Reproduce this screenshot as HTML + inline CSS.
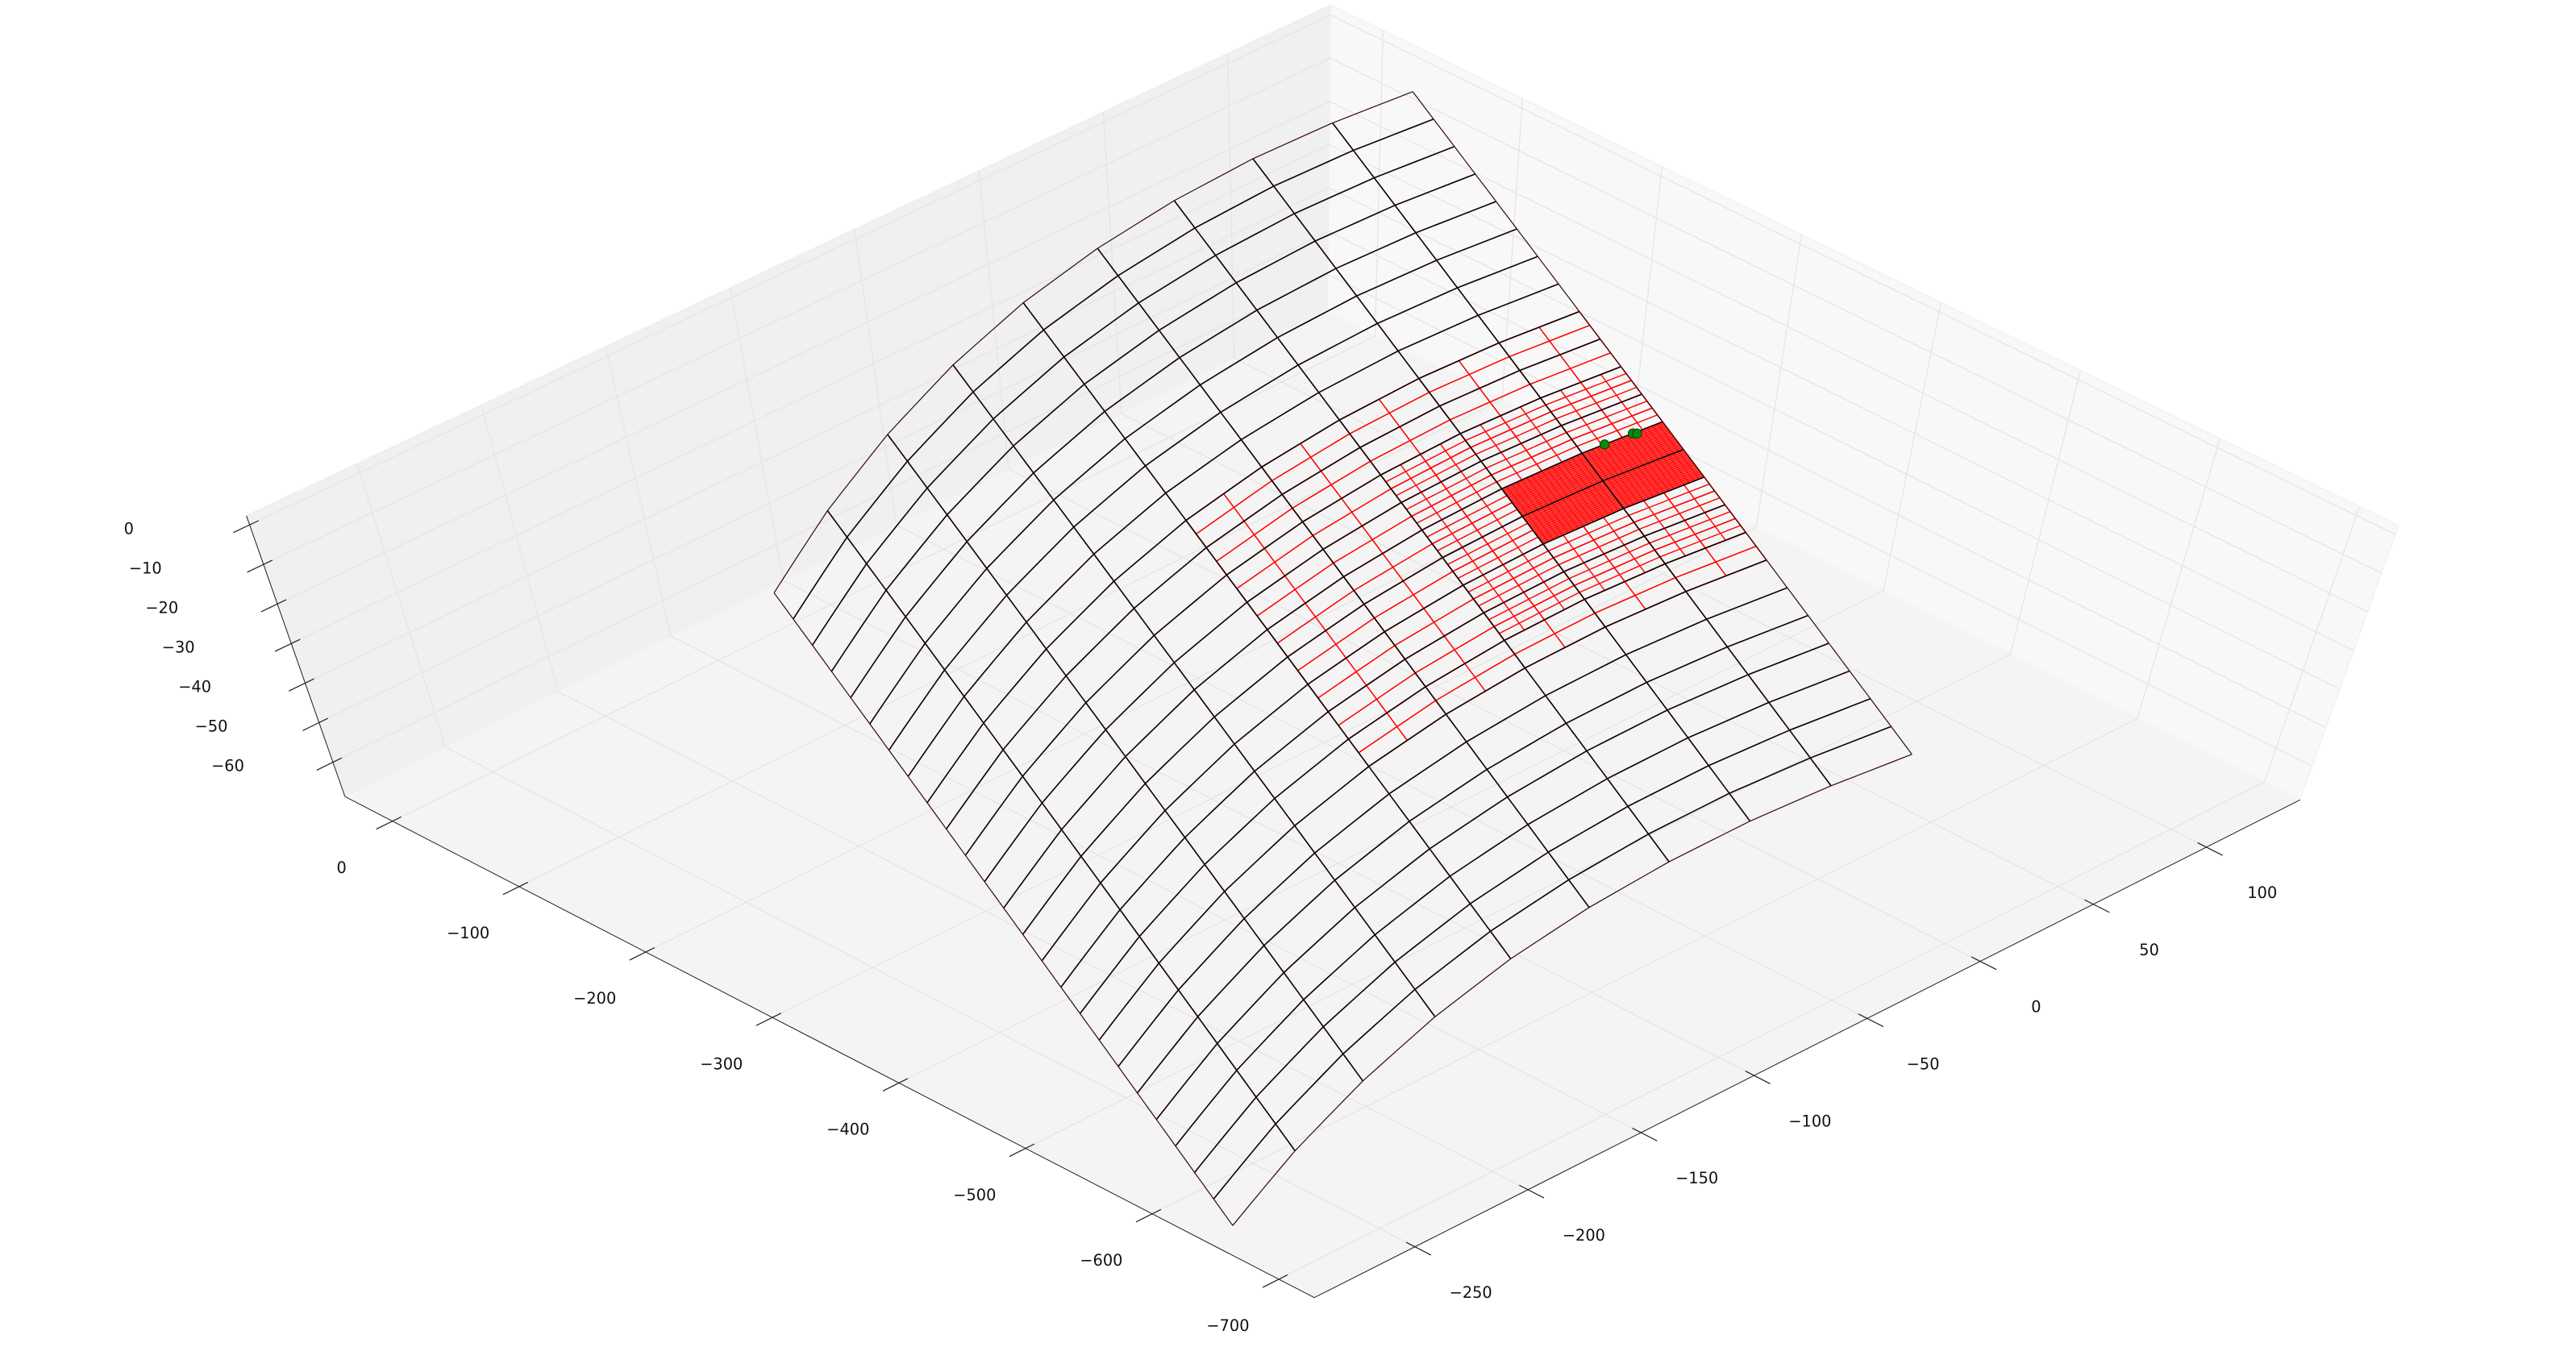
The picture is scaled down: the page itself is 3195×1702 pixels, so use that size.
<!DOCTYPE html>
<html><head><meta charset="utf-8"><title>3D fault mesh</title>
<style>html,body{margin:0;padding:0;background:#fff;}svg{display:block;}</style></head>
<body>
<svg id="chart" xmlns="http://www.w3.org/2000/svg" width="3195" height="1702" viewBox="0 0 1568 835.3" preserveAspectRatio="none" font-family="'DejaVu Sans','Liberation Sans',sans-serif">
<g id="panes"></g>
<g id="grid"></g>
<g id="axes"></g>
<g id="surface"></g>
</svg>
<script>
const xTicks=[0,-100,-200,-300,-400,-500,-600,-700];
const yTicks=[-250,-200,-150,-100,-50,0,50,100];
const zTicks=[0,-10,-20,-30,-40,-50,-60];
const xLim=[-728,37.5];
const yLim=[-294.5,141.4];
const zLim=[-68.7,2.3];
const trenchX=[-49,-728];
const trenchY=[126,-50];
const dipDir=[0.269,-0.963];
const strikeDist=[0,28.8,57.6,86.4,115.2,144,172.8,201.6,230.4,259.2,288,316.8,345.6,374.4,403.2,432,460.8,489.6,518.4,547.2,576,604.8,633.6,662.4,691.2];
const dipDist=[0,29,57.9,86.7,115.2,143.4,171,197.9,224,249];
const dipDepth=[0,-0.9,-2.9,-6.4,-11.4,-18.1,-26.9,-37.7,-50.4,-64.9];
const refine1=[8,17,0,5];
const refine2=[10,16,0,3];
const denseBlock=[12,14,0,2];
const greenStrike=[12,12,12.05];
const greenDip=[0.72,0.37,0.33];

const NS='http://www.w3.org/2000/svg';
const CB={B:[800,790],A:[210,485],C:[1400,487],G:[808,190],H:[798,639],D:[150,314],F:[1460,320],E:[810,3]};
function bil(u,v,p00,p10,p01,p11){
  return [(1-u)*(1-v)*p00[0]+u*(1-v)*p10[0]+(1-u)*v*p01[0]+u*v*p11[0],
          (1-u)*(1-v)*p00[1]+u*(1-v)*p10[1]+(1-u)*v*p01[1]+u*v*p11[1]];
}
function proj(x,y,z){
  const u=(x-xLim[0])/(xLim[1]-xLim[0]);
  const v=(y-yLim[0])/(yLim[1]-yLim[0]);
  const w=(z-zLim[0])/(zLim[1]-zLim[0]);
  const f=bil(u,v,CB.B,CB.A,CB.C,CB.G);
  const t=bil(u,v,CB.H,CB.D,CB.F,CB.E);
  return [f[0]*(1-w)+t[0]*w,f[1]*(1-w)+t[1]*w];
}
function mk(tag,attrs,parent){const e=document.createElementNS(NS,tag);for(const k in attrs)e.setAttribute(k,attrs[k]);parent.appendChild(e);return e;}
function pts(a){return a.map(p=>p[0].toFixed(2)+','+p[1].toFixed(2)).join(' ');}
const gP=document.getElementById('panes'),gG=document.getElementById('grid'),gA=document.getElementById('axes'),gS=document.getElementById('surface');
const X0=xLim[0],X1=xLim[1],Y0=yLim[0],Y1=yLim[1],Z0=zLim[0],Z1=zLim[1];

let p;
p=mk('polygon',{points:pts([proj(X1,Y0,Z0),proj(X1,Y0,Z1),proj(X1,Y1,Z1),proj(X1,Y1,Z0)]),fill:'#f0f0f0',stroke:'#ececec','stroke-width':0.6},gP);


p=mk('polygon',{points:pts([proj(X1,Y1,Z0),proj(X1,Y1,Z1),proj(X0,Y1,Z1),proj(X0,Y1,Z0)]),fill:'#f8f8f8',stroke:'#f0f0f0','stroke-width':0.6},gP);


p=mk('polygon',{points:pts([proj(X1,Y0,Z0),proj(X0,Y0,Z0),proj(X0,Y1,Z0),proj(X1,Y1,Z0)]),fill:'#f4f4f4',stroke:'none'},gP);



const gcol='#e4e4e4',gw=0.6;
function gl(a,b,name){const l=mk('line',{x1:a[0],y1:a[1],x2:b[0],y2:b[1],stroke:gcol,'stroke-width':gw},gG);}
xTicks.forEach(t=>{gl(proj(t,Y0,Z0),proj(t,Y1,Z0),'floor-grid-x');gl(proj(t,Y1,Z0),proj(t,Y1,Z1),'right-pane-grid-x');});
yTicks.forEach(t=>{gl(proj(X0,t,Z0),proj(X1,t,Z0),'floor-grid-y');gl(proj(X1,t,Z0),proj(X1,t,Z1),'left-pane-grid-y');});
zTicks.forEach(t=>{gl(proj(X1,Y0,t),proj(X1,Y1,t),'left-pane-grid-z');gl(proj(X0,Y1,t),proj(X1,Y1,t),'right-pane-grid-z');});

function axl(a,b,name){const l=mk('line',{x1:a[0],y1:a[1],x2:b[0],y2:b[1],stroke:'#222','stroke-width':0.5},gA);}
axl(proj(X1,Y0,Z0),proj(X0,Y0,Z0),'x-axis-line');
axl(proj(X0,Y0,Z0),proj(X0,Y1,Z0),'y-axis-line');
axl(proj(X1,Y0,Z0),proj(X1,Y0,Z1),'z-axis-line');
function unit(a,b){const dx=b[0]-a[0],dy=b[1]-a[1],L=Math.hypot(dx,dy);return [dx/L,dy/L];}
function fmt(t){return t<0?'\u2212'+Math.abs(t):String(t);}
function tick(P,dir,outLen,inLen,name){const l=mk('line',{x1:P[0]-dir[0]*outLen,y1:P[1]-dir[1]*outLen,x2:P[0]+dir[0]*inLen,y2:P[1]+dir[1]*inLen,stroke:'#222','stroke-width':0.6},gA);}
function label(x,y,txt,name){const t=mk('text',{x:x,y:y,'font-size':9.5,'text-anchor':'middle',fill:'#111'},gA);t.textContent=txt;}
xTicks.forEach(t=>{const P=proj(t,Y0,Z0);const d=unit(proj(t,Y0,Z0),proj(t,Y1,Z0));tick(P,d,11,6,'x-tick');label(P[0]-31,P[1]+31.5,fmt(t),'x-tick-label');});
yTicks.forEach(t=>{const P=proj(X0,t,Z0);const d=unit(proj(X0,t,Z0),proj(X1,t,Z0));tick(P,d,11,6,'y-tick');label(P[0]+34,P[1]+31,fmt(t),'y-tick-label');});
zTicks.forEach(t=>{const P=proj(X1,Y0,t);const d=unit(proj(X1,Y0,t),proj(X1,Y1,t));tick(P,d,11,6,'z-tick');const f=(t-zTicks[zTicks.length-1])/(zTicks[0]-zTicks[zTicks.length-1]);label(P[0]-(64+f*9.5),P[1]+5.5,fmt(t),'z-tick-label');});

const sx=trenchX[1]-trenchX[0],sy=trenchY[1]-trenchY[0],sL=Math.hypot(sx,sy);
const su=[sx/sL,sy/sL];
const dL=Math.hypot(dipDir[0],dipDir[1]);
const dp=[dipDir[0]/dL,dipDir[1]/dL];
function interp(arr,f){const i=Math.max(0,Math.min(arr.length-2,Math.floor(f)));const r=f-i;return arr[i]*(1-r)+arr[i+1]*r;}
function node(i,j){const s=interp(strikeDist,i),d=interp(dipDist,j),z=interp(dipDepth,j);
  return proj(trenchX[0]+s*su[0]+d*dp[0],trenchY[0]+s*su[1]+d*dp[1],z);}
function lineI(i,j0,j1){const a=[];for(let j=j0;j<=j1+1e-9;j+=0.25)a.push(node(i,j));return a;}
function lineJ(j,i0,i1){const a=[];for(let i=i0;i<=i1+1e-9;i+=0.25)a.push(node(i,j));return a;}
function pl(a,col,w,name){const l=mk('polyline',{points:pts(a),fill:'none',stroke:col,'stroke-width':w,'stroke-linejoin':'round'},gS);}
const nI=strikeDist.length-1,nJ=dipDist.length-1;

for(let i=refine1[0];i<=refine1[1]+1e-9;i+=0.5)pl(lineI(i,refine1[2],refine1[3]),'#ff0000',0.75,'refined-mesh-l1-strike-line');
for(let j=refine1[2];j<=refine1[3]+1e-9;j+=0.5)pl(lineJ(j,refine1[0],refine1[1]),'#ff0000',0.75,'refined-mesh-l1-dip-line');
for(let i=refine2[0];i<=refine2[1]+1e-9;i+=0.25)pl(lineI(i,refine2[2],refine2[3]),'#ff0000',0.7,'refined-mesh-l2-strike-line');
for(let j=refine2[2];j<=refine2[3]+1e-9;j+=0.25)pl(lineJ(j,refine2[0],refine2[1]),'#ff0000',0.7,'refined-mesh-l2-dip-line');
(function(){const b=[].concat(lineJ(denseBlock[2],denseBlock[0],denseBlock[1]),lineI(denseBlock[1],denseBlock[2],denseBlock[3]),lineJ(denseBlock[3],denseBlock[0],denseBlock[1]).reverse(),lineI(denseBlock[0],denseBlock[2],denseBlock[3]).reverse());
 const poly=mk('polygon',{points:pts(b),fill:'#ff4848',stroke:'#ff0000','stroke-width':0.6},gS);
 
 
 for(let i=denseBlock[0];i<=denseBlock[1]+1e-9;i+=1/16)pl(lineI(i,denseBlock[2],denseBlock[3]),'#ff0000',0.45,'dense-block-strike-line');
 for(let j=denseBlock[2];j<=denseBlock[3]+1e-9;j+=1/16)pl(lineJ(j,denseBlock[0],denseBlock[1]),'#ff0000',0.45,'dense-block-dip-line');
})();
for(let i=0;i<=nI;i++)pl(lineI(i,0,nJ),(i===0||i===nI)?'#3a0a0a':'#140000',(i===0||i===nI)?0.6:0.8,'fault-dip-line');
for(let j=0;j<=nJ;j++)pl(lineJ(j,0,nI),(j===0||j===nJ)?'#3a0a0a':'#140000',(j===0||j===nJ)?0.6:0.8,'fault-strike-line');
greenStrike.forEach((s,k)=>{const P=node(s,greenDip[k]);const c=mk('circle',{cx:P[0],cy:P[1],r:2.8,fill:'#0a8a0a',stroke:'#0b3d0b','stroke-width':0.5},gS);});
</script>
</body></html>
